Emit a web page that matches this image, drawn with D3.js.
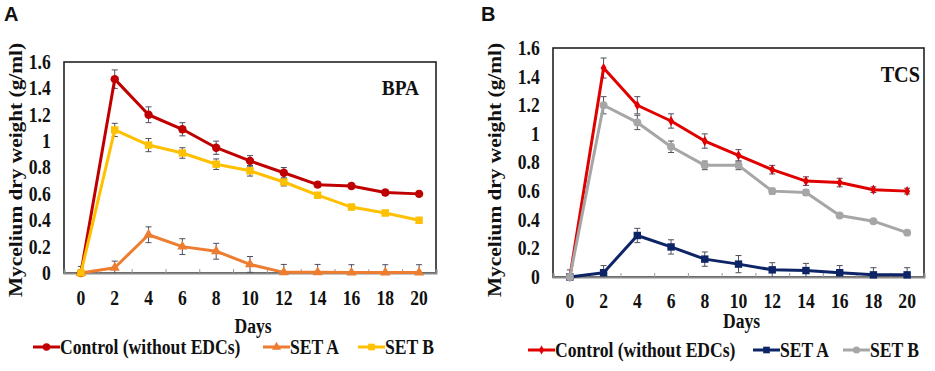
<!DOCTYPE html>
<html>
<head>
<meta charset="utf-8">
<script src="https://cdn.jsdelivr.net/npm/d3@7"></script>
<style>
  body { margin: 0; background: #fff; }
  text { font-family: "Liberation Serif", "Times New Roman", serif; font-weight: bold; fill: #111; }
</style>
</head>
<body>
<svg id="canvas"></svg>
<script>
const days = [0, 2, 4, 6, 8, 10, 12, 14, 16, 18, 20];
const yTicks = [0, 0.2, 0.4, 0.6, 0.8, 1, 1.2, 1.4, 1.6];
const seriesNames = ["Control (without EDCs)", "SET A", "SET B"];

// panel A: BPA
const bpaControl = [0, 1.47, 1.2, 1.09, 0.95, 0.85, 0.76, 0.67, 0.66, 0.61, 0.6];
const bpaSetA = [0, 0.04, 0.29, 0.2, 0.165, 0.065, 0.005, 0.005, 0.003, 0.003, 0.003];
const bpaSetB = [0, 1.085, 0.97, 0.91, 0.825, 0.775, 0.69, 0.59, 0.5, 0.455, 0.4];
const bpaControlErr = [0, 0.07, 0.06, 0.05, 0.05, 0.04, 0.04, 0.02, 0.02, 0.02, 0.02];
const bpaSetAErr = [0.05, 0.05, 0.06, 0.06, 0.06, 0.06, 0.06, 0.06, 0.06, 0.06, 0.06];
const bpaSetBErr = [0, 0.05, 0.05, 0.04, 0.04, 0.04, 0.03, 0.02, 0.02, 0.02, 0.02];

// panel B: TCS
const tcsControl = [0, 1.46, 1.2, 1.09, 0.95, 0.85, 0.75, 0.67, 0.66, 0.61, 0.6];
const tcsSetA = [0, 0.03, 0.29, 0.21, 0.125, 0.09, 0.05, 0.045, 0.03, 0.015, 0.015];
const tcsSetB = [0, 1.2, 1.08, 0.91, 0.78, 0.78, 0.6, 0.59, 0.43, 0.39, 0.31];
const tcsControlErr = [0, 0.07, 0.06, 0.05, 0.05, 0.04, 0.03, 0.03, 0.03, 0.02, 0.02];
const tcsSetAErr = [0.05, 0.05, 0.05, 0.05, 0.05, 0.06, 0.05, 0.05, 0.05, 0.05, 0.05];
const tcsSetBErr = [0, 0.06, 0.05, 0.04, 0.03, 0.03, 0.02, 0.02, 0.01, 0.01, 0.01];

const width = 935;
const height = 371;
const squeeze = 0.88; // text in the source is a bit narrow / tall

const canvas = d3.select("#canvas").attr("width", width).attr("height", height);

const panels = [
  {
    letter: "A", letterX: 4, tag: "BPA", tagX: 419, tagY: 95, tagSize: 22,
    box: { left: 64, right: 436, top: 62, bottom: 273 },
    yLabelX: 22, tickBaseline: 305, daysBaseline: 333, legendY: 354,
    legendX: [33, 263, 358],
    series: [
      { values: bpaControl, err: bpaControlErr, color: "#C00000", symbol: d3.symbolCircle, size: 55 },
      { values: bpaSetA, err: bpaSetAErr, color: "#ED7D31", symbol: d3.symbolTriangle, size: 45 },
      { values: bpaSetB, err: bpaSetBErr, color: "#FFC000", symbol: d3.symbolSquare, size: 55 },
    ],
  },
  {
    letter: "B", letterX: 481, tag: "TCS", tagX: 920, tagY: 82, tagSize: 23,
    box: { left: 553, right: 924, top: 48, bottom: 277 },
    yLabelX: 501, tickBaseline: 308, daysBaseline: 328, legendY: 357,
    legendX: [528, 753, 843],
    series: [
      { values: tcsControl, err: tcsControlErr, color: "#E00000", symbol: d3.symbolDiamond, size: 30 },
      { values: tcsSetA, err: tcsSetAErr, color: "#0D2566", symbol: d3.symbolSquare, size: 55 },
      { values: tcsSetB, err: tcsSetBErr, color: "#A6A6A6", symbol: d3.symbolCircle, size: 50 },
    ],
  },
];

const addText = (parent, x, y, str, size, anchor) =>
  parent.append("text")
    .attr("transform", `translate(${x}, ${y}) scale(${squeeze}, 1)`)
    .attr("text-anchor", anchor || "start")
    .style("font-size", size + "px")
    .text(str);

const drawPanel = (p) => {
  const g = canvas.append("g");
  const b = p.box;

  const xScale = d3.scaleLinear().domain([-1, 21]).range([b.left, b.right]);
  const yScale = d3.scaleLinear().domain([0, 1.6]).range([b.bottom, b.top]);

  // panel letter
  g.append("text")
    .attr("x", p.letterX)
    .attr("y", 21)
    .style("font-family", "'Liberation Sans', Arial, sans-serif")
    .style("font-size", "20px")
    .text(p.letter);

  // frame
  g.append("rect")
    .attr("x", b.left)
    .attr("y", b.top)
    .attr("width", b.right - b.left)
    .attr("height", b.bottom - b.top)
    .attr("fill", "none")
    .attr("stroke", "#222")
    .attr("stroke-width", 1.6);

  // x axis line + minor ticks between categories
  const xAxis = d3.axisBottom(xScale)
    .tickValues(d3.range(1, 20, 2))
    .tickSize(-4)
    .tickFormat("");
  const xg = g.append("g")
    .attr("transform", `translate(0, ${b.bottom})`)
    .call(xAxis);
  xg.select(".domain").attr("stroke", "#8a8a8a").attr("stroke-width", 2);
  xg.selectAll(".tick line").attr("stroke", "#9a9a9a");

  // x tick labels
  days.forEach((d) => addText(g, xScale(d), p.tickBaseline, d, 20, "middle"));

  // y axis labels
  const yAxis = d3.axisLeft(yScale)
    .tickValues(yTicks)
    .tickSize(0)
    .tickPadding(15)
    .tickFormat((d) => d3.format("")(+d.toFixed(1)));
  const yg = g.append("g")
    .attr("transform", `translate(${b.left}, 0)`)
    .call(yAxis);
  yg.select(".domain").remove();
  yg.selectAll(".tick text")
    .attr("transform", `scale(${squeeze}, 1)`)
    .style("font-size", "20px")
    .style("font-family", "'Liberation Serif', 'Times New Roman', serif")
    .attr("fill", "#111");

  // y title
  g.append("text")
    .attr("transform", `translate(${p.yLabelX}, 170) rotate(-90)`)
    .attr("text-anchor", "middle")
    .attr("textLength", 254)
    .attr("lengthAdjust", "spacingAndGlyphs")
    .style("font-size", "19px")
    .text("Mycelium dry weight (g/ml)");

  // x title
  addText(g, (b.left + b.right) / 2 + 3, p.daysBaseline, "Days", 20, "middle");

  // tag
  addText(g, p.tagX, p.tagY, p.tag, p.tagSize, "end");

  const line = d3.line()
    .x((d, i) => xScale(days[i]))
    .y((d) => yScale(d));

  p.series.forEach((s) => {
    // error bars
    const eb = g.append("g").attr("stroke", "#4f4f5f").attr("stroke-width", 1);
    days.forEach((day, i) => {
      const x = xScale(day);
      const lo = Math.max(0, s.values[i] - s.err[i]);
      const hi = s.values[i] + s.err[i];
      if (s.err[i] <= 0) return;
      eb.append("line").attr("x1", x).attr("x2", x).attr("y1", yScale(lo)).attr("y2", yScale(hi));
      eb.append("line").attr("x1", x - 3).attr("x2", x + 3).attr("y1", yScale(hi)).attr("y2", yScale(hi));
      if (s.values[i] - s.err[i] > 0) {
        eb.append("line").attr("x1", x - 3).attr("x2", x + 3).attr("y1", yScale(lo)).attr("y2", yScale(lo));
      }
    });
  });

  p.series.forEach((s) => {
    g.append("path")
      .datum(s.values)
      .attr("d", line)
      .attr("fill", "none")
      .attr("stroke", s.color)
      .attr("stroke-width", 3)
      .attr("stroke-linejoin", "round");

    g.selectAll(null)
      .data(s.values)
      .enter()
      .append("path")
      .attr("d", d3.symbol().type(s.symbol).size(s.size))
      .attr("transform", (d, i) => `translate(${xScale(days[i])}, ${yScale(d)})`)
      .attr("fill", s.color);
  });

  // legend
  p.series.forEach((s, i) => {
    const lx = p.legendX[i];
    const lg = g.append("g").attr("transform", `translate(${lx}, ${p.legendY})`);
    lg.append("line")
      .attr("x1", 0).attr("x2", 27)
      .attr("y1", -7).attr("y2", -7)
      .attr("stroke", s.color)
      .attr("stroke-width", 3);
    lg.append("path")
      .attr("d", d3.symbol().type(s.symbol).size(s.size * 0.8))
      .attr("transform", "translate(13.5, -7)")
      .attr("fill", s.color);
    addText(lg, 27, 0, seriesNames[i], 20);
  });
};

panels.forEach(drawPanel);
</script>
</body>
</html>
